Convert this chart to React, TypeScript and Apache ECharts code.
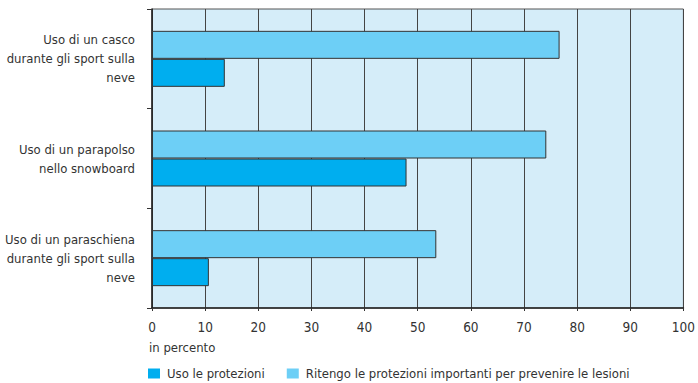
import React, { useEffect, useRef } from "react";
import * as echarts from "echarts";

const categories = [
  "Uso di un casco\ndurante gli sport sulla\nneve",
  "Uso di un parapolso\nnello snowboard",
  "Uso di un paraschiena\ndurante gli sport sulla\nneve",
];
const seriesUseName = "Uso le protezioni";
const seriesImportantName = "Ritengo le protezioni importanti per prevenire le lesioni";
const useValues = [13.7, 47.9, 10.7];
const importantValues = [76.7, 74.2, 53.5];
const xTicks = { min: 0, max: 100, interval: 10 };
const axisName = "in percento";

const FONT = "'DejaVu Sans Condensed', 'Liberation Sans', sans-serif";

export default function App() {
  const ref = useRef<HTMLDivElement>(null);
  useEffect(() => {
    if (!ref.current) return;
    const chart = echarts.init(ref.current, null, { renderer: "svg" });
    chart.setOption({
      animation: false,
      textStyle: { fontFamily: FONT },
      grid: {
        left: 152,
        right: 13,
        top: 9,
        bottom: 75,
        show: true,
        backgroundColor: "#d5edf9",
        borderColor: "#555",
        borderWidth: 1,
      },
      title: {
        text: axisName,
        left: 144,
        top: 336,
        textStyle: { fontFamily: FONT, fontSize: 13, fontWeight: "normal", color: "#333" },
      },
      legend: {
        data: [seriesUseName, seriesImportantName],
        left: 143,
        top: 362,
        itemWidth: 12,
        itemHeight: 10,
        itemGap: 22,
        icon: "rect",
        itemStyle: { borderWidth: 0 },
        textStyle: { fontFamily: FONT, fontSize: 13, color: "#333", padding: [0, 0, 0, 2] },
      },
      xAxis: {
        type: "value",
        min: xTicks.min,
        max: xTicks.max,
        interval: xTicks.interval,
        axisLine: { show: true, lineStyle: { color: "#222", width: 1.5 } },
        axisTick: { show: true, length: 3, lineStyle: { color: "#333" } },
        axisLabel: { fontFamily: FONT, fontSize: 13.5, color: "#333", margin: 12 },
        splitLine: { show: true, lineStyle: { color: "#444", width: 1 } },
      },
      yAxis: {
        type: "category",
        data: categories,
        inverse: true,
        axisLine: { show: true, lineStyle: { color: "#222", width: 1.5 } },
        axisTick: { show: true, length: 5, lineStyle: { color: "#333" } },
        axisLabel: {
          fontFamily: FONT,
          fontSize: 13,
          color: "#333",
          margin: 17,
          lineHeight: 19,
          align: "right",
        },
        splitLine: { show: false },
      },
      series: [
        {
          name: seriesImportantName,
          type: "bar",
          data: importantValues,
          barWidth: 28,
          barGap: "0%",
          itemStyle: { color: "#6dcff6", borderColor: "#333", borderWidth: 1 },
        },
        {
          name: seriesUseName,
          type: "bar",
          data: useValues,
          barWidth: 28,
          barGap: "0%",
          itemStyle: { color: "#00aeef", borderColor: "#333", borderWidth: 1 },
        },
      ],
    });
    return () => chart.dispose();
  }, []);
  return <div ref={ref} style={{ width: 698, height: 383, position: "absolute", left: 0, top: 0 }} />;
}
